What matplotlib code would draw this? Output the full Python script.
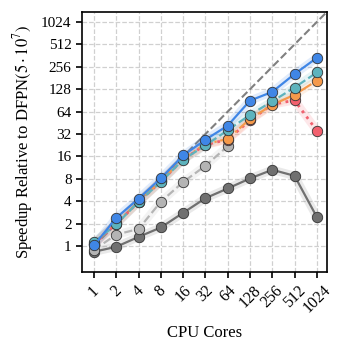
import numpy as np
import matplotlib
matplotlib.use("Agg")
import matplotlib.pyplot as plt

plt.rcParams['font.family'] = ['Liberation Serif', 'DejaVu Serif']
plt.rcParams['mathtext.fontset'] = 'stix'

cores = [1, 2, 4, 8, 16, 32, 64, 128, 256, 512, 1024]
core_labels = ['1', '2', '4', '8', '16', '32', '64', '128', '256', '512', '1024']
y_ticks = [1, 2, 4, 8, 16, 32, 64, 128, 256, 512, 1024]

# speedups
dark_gray = [0.84, 0.98, 1.33, 1.78, 2.8, 4.4, 5.95, 8.1, 10.6, 8.8, 2.46]
light_gray = [0.89, 1.43, 1.70, 3.95, 7.25, 12.0, 22.0]
red = [1.06, 2.0, 3.9, 7.4, 14.6, 23.0, 27.0, 48.8, 80.0, 91.0, 35.5]
orange = [1.08, 2.05, 3.95, 7.5, 14.8, 23.5, 27.5, 51.0, 79.0, 108.0, 167.0]
teal = [1.13, 1.96, 3.93, 7.3, 14.5, 22.5, 36.0, 58.0, 88.0, 135.0, 215.0]
blue = [1.02, 2.4, 4.35, 8.15, 16.5, 26.9, 41.5, 90.0, 118.0, 205.0, 338.0]

series = [
    (dark_gray, '#707070', '-'),
    (light_gray, '#b4b4b4', '--'),
    (red, '#f2606e', ':'),
    (orange, '#f5994a', '-.'),
    (teal, '#5db3bd', '--'),
    (blue, '#3f86e6', '-'),
]

fig = plt.figure(figsize=(3.4, 3.5), dpi=100)
ax = fig.add_axes([0.241, 0.223, 0.721, 0.743])

xi = np.log2(cores)
# ideal linear speedup
ax.plot([0, 10.5], [1, 2 ** 10.5], color='#808080', ls='--', lw=1.5, zorder=1)

for vals, col, ls in series:
    x = xi[:len(vals)]
    ax.plot(x, vals, color=col, lw=6, alpha=0.15, solid_capstyle='round', zorder=2)
    ax.plot(x, vals, color=col, ls=ls, lw=1.6 if ls != ':' else 2.0, marker='o', ms=7.5,
            mec='#333333', mew=0.6, zorder=3)

ax.set_yscale('log', base=2)
ax.set_ylim(0.45, 1400)
ax.set_xlim(-0.54, 10.46)
ax.set_yticks(y_ticks)
ax.set_yticklabels([str(v) for v in y_ticks])
ax.minorticks_off()
ax.set_xticks(xi)
ax.set_xticklabels(core_labels, rotation=45)
ax.grid(True, ls='--', color='#d0d0d0', lw=0.9)
ax.set_axisbelow(True)
ax.tick_params(axis='both', labelsize=11, length=4, width=1.2, direction='out')
ax.tick_params(axis='x', labelsize=11.5)
for s in ax.spines.values():
    s.set_linewidth(1.2)
ax.set_xlabel('CPU Cores', fontsize=12, labelpad=6)
ax.set_ylabel(r'Speedup Relative to DFPN$(5\cdot10^7)$', fontsize=12)

fig.savefig('out.png', dpi=100)
